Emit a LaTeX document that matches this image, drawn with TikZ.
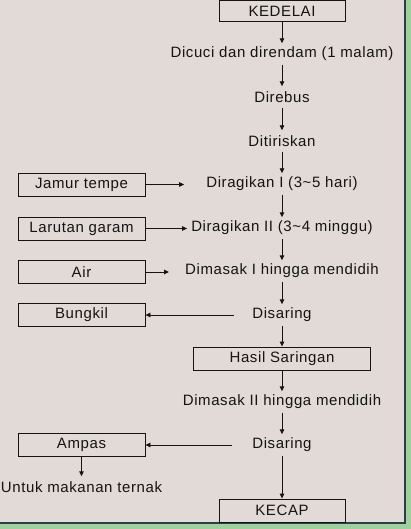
\documentclass[tikz,border=0pt]{standalone}
\usepackage{fontspec}
\setmainfont[LetterSpace=4]{Liberation Sans}
\usetikzlibrary{arrows.meta}
\definecolor{bgc}{RGB}{226,218,214}
\definecolor{edgec}{RGB}{45,62,70}
\definecolor{greenc}{RGB}{160,208,160}
\definecolor{txtc}{RGB}{20,20,20}
\tikzset{
  txt/.style={inner sep=0pt, minimum height=21pt, text=txtc, font=\fontsize{15}{17}\selectfont},
  boxed/.style={txt, draw=txtc, line width=0.9pt},
  arr/.style={draw=txtc, line width=0.9pt, -{Triangle[length=5pt,width=4.5pt]}},
}
\begin{document}
\begin{tikzpicture}[x=1pt,y=-1pt]
\useasboundingbox (0,0) rectangle (411,529);
\fill[greenc] (0,0) rectangle (411,529);
\fill[bgc] (0,0) rectangle (405,523);
\draw[edgec, line width=1.2pt] (0,523) -- (405,523) -- (405,0);

\node[boxed, minimum width=126pt] (kedelai) at (282,11) {KEDELAI};
\node[txt] (cuci) at (282,54) {Dicuci dan direndam (1 malam)};
\node[txt] (rebus) at (282,97) {Direbus};
\node[txt] (tiris) at (282,141) {Ditiriskan};
\node[txt] (ragi1) at (282,184) {Diragikan I (3\textasciitilde5 hari)};
\node[txt] (ragi2) at (282,228) {Diragikan II (3\textasciitilde4 minggu)};
\node[txt] (masak1) at (282,271) {Dimasak I hingga mendidih};
\node[txt] (saring1) at (282,315) {Disaring};
\node[boxed, minimum width=177pt, minimum height=23pt] (hasil) at (282,358.5) {Hasil Saringan};
\node[txt] (masak2) at (282,402) {Dimasak II hingga mendidih};
\node[txt] (saring2) at (282,445) {Disaring};
\node[boxed, minimum width=126pt, minimum height=23pt] (kecap) at (282,510.5) {KECAP};

\node[boxed, minimum width=127pt, minimum height=23pt] (jamur) at (81.5,184.5) {Jamur tempe};
\node[boxed, minimum width=127pt, minimum height=23pt] (garam) at (81.5,228.5) {Larutan garam};
\node[boxed, minimum width=127pt, minimum height=23pt] (air) at (81.5,272) {Air};
\node[boxed, minimum width=127pt, minimum height=23pt] (bungkil) at (81.5,315) {Bungkil};
\node[boxed, minimum width=127pt, minimum height=23pt] (ampas) at (81.5,445) {Ampas};
\node[txt] (ternak) at (81.5,487) {Untuk makanan ternak};

\draw[arr] (kedelai) -- (cuci);
\draw[arr] (cuci) -- (rebus);
\draw[arr] (rebus) -- (tiris);
\draw[arr] (tiris) -- (ragi1);
\draw[arr] (ragi1) -- (ragi2);
\draw[arr] (ragi2) -- (masak1);
\draw[arr] (masak1) -- (saring1);
\draw[arr] (saring1) -- (hasil);
\draw[arr] (hasil) -- (masak2);
\draw[arr] (masak2) -- (saring2);
\draw[arr] (saring2) -- (kecap);

\draw[arr, shorten >=22pt] (jamur.east) -- (ragi1.west |- jamur.east);
\draw[arr, shorten >=4pt] (garam.east) -- (ragi2.west |- garam.east);
\draw[arr, shorten >=16pt] (air.east) -- (masak1.west |- air.east);
\draw[arr, shorten <=18pt] (saring1.west) -- (bungkil.east |- saring1.west);
\draw[arr, shorten <=20pt] (saring2.west) -- (ampas.east |- saring2.west);
\draw[arr] (ampas) -- (ternak);
\end{tikzpicture}
\end{document}
